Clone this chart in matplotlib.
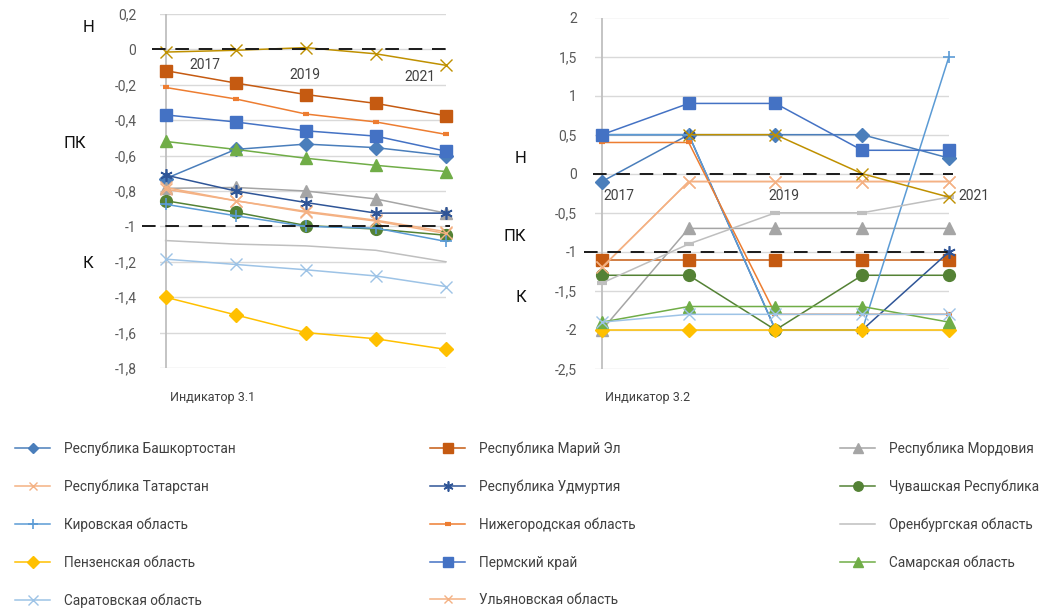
import matplotlib.pyplot as plt
from matplotlib.ticker import FuncFormatter

plt.rcParams['font.family'] = ['Roboto', 'DejaVu Sans']

# data
years = ['2017', '2018', '2019', '2020', '2021']
regions = ['Республика Башкортостан', 'Республика Марий Эл', 'Республика Мордовия',
           'Республика Татарстан', 'Республика Удмуртия', 'Чувашская Республика',
           'Кировская область', 'Нижегородская область', 'Оренбургская область',
           'Пензенская область', 'Пермский край', 'Самарская область',
           'Саратовская область', 'Ульяновская область']

# indicator 3.1, one row per region (same order as regions)
ind31 = [
    [-0.73, -0.565, -0.535, -0.555, -0.6],
    [-0.12, -0.19, -0.255, -0.305, -0.375],
    [-0.785, -0.78, -0.8, -0.845, -0.925],
    [-0.78, -0.855, -0.915, -0.965, -1.03],
    [-0.71, -0.8, -0.865, -0.925, -0.925],
    [-0.855, -0.92, -0.995, -1.015, -1.05],
    [-0.875, -0.94, -1.0, -1.01, -1.085],
    [-0.215, -0.28, -0.365, -0.41, -0.48],
    [-1.08, -1.1, -1.11, -1.135, -1.2],
    [-1.4, -1.5, -1.6, -1.635, -1.695],
    [-0.37, -0.41, -0.46, -0.49, -0.575],
    [-0.52, -0.565, -0.615, -0.655, -0.69],
    [-1.185, -1.215, -1.245, -1.28, -1.34],
    [-0.79, -0.855, -0.92, -0.97, -1.04],
]
# indicator 3.2
ind32 = [
    [-0.1, 0.5, 0.5, 0.5, 0.2],
    [-1.1, -1.1, -1.1, -1.1, -1.1],
    [-2, -0.7, -0.7, -0.7, -0.7],
    [-1.2, -0.1, -0.1, -0.1, -0.1],
    [0.5, 0.5, -2, -2, -1],
    [-1.3, -1.3, -2, -1.3, -1.3],
    [0.5, 0.5, -2, -2, 1.5],
    [0.4, 0.4, -1.8, -1.8, -1.8],
    [-1.4, -0.9, -0.5, -0.5, -0.3],
    [-2, -2, -2, -2, -2],
    [0.5, 0.9, 0.9, 0.3, 0.3],
    [-1.9, -1.7, -1.7, -1.7, -1.9],
    [-1.9, -1.8, -1.8, -1.8, -1.8],
    [-1.2, -0.1, -0.1, -0.1, -0.1],
]
# gold series that has no legend entry (no 2017 value on the right chart)
extra31 = [-0.015, -0.005, 0.01, -0.025, -0.09]
extra32 = [float('nan'), 0.5, 0.5, 0, -0.3]

thresholds = [0, -1]
yticks31 = [0.2, 0, -0.2, -0.4, -0.6, -0.8, -1, -1.2, -1.4, -1.6, -1.8]
yticks32 = [2, 1.5, 1, 0.5, 0, -0.5, -1, -1.5, -2, -2.5]

# styles: color, marker, markersize, marker edge width
star = (6, 2, 0)
styles = [
    ('#4A7EBB', 'D', 7, 1),
    ('#C55A11', 's', 8.5, 1),
    ('#A5A5A5', '^', 8.5, 1),
    ('#F4B183', 'x', 8, 1),
    ('#2F5597', star, 9, 1.2),
    ('#548235', 'o', 8.5, 1),
    ('#5B9BD5', '+', 9, 1.2),
    ('#ED7D31', '_', 5, 3),
    ('#BFBFBF', '_', 7, 3),
    ('#FFC000', 'D', 7.5, 1),
    ('#4472C4', 's', 8.5, 1),
    ('#70AD47', '^', 8.5, 1),
    ('#9DC3E6', 'x', 9, 1),
    ('#F4B183', 'x', 8, 1),
]
extra_style = ('#BF9000', 'x', 9, 1)

W, H = 1043, 613
fig = plt.figure(figsize=(W / 100, H / 100), dpi=100)


def box(x0, y0, x1, y1):
    return [x0 / W, 1 - y1 / H, (x1 - x0) / W, (y1 - y0) / H]


def ftext(x, y, s, **kw):
    fig.text(x / W, 1 - y / H, s, **kw)


comma = FuncFormatter(lambda v, p: ('%g' % v).replace('.', ','))


def draw(ax, rows, extra, yticks, ylim, xleft, pad, left_chart):
    xs = range(len(years))
    handles = []
    for name, vals, (c, m, ms, mew) in zip(regions, rows, styles):
        if left_chart and name == 'Оренбургская область':
            m = 'None'
        ln, = ax.plot(xs, vals, color=c, lw=1.1, marker=m, ms=ms, mew=mew,
                      mfc=c, mec=c, label=name, clip_on=False, zorder=3)
        handles.append(ln)
    c, m, ms, mew = extra_style
    ax.plot(xs, extra, color=c, lw=1.1, marker=m, ms=ms, mew=mew, mec=c,
            clip_on=False, zorder=3)
    for t, x0 in zip(thresholds, xleft):
        ax.hlines(t, x0, 4.05, colors='#1a1a1a', lw=1.4, linestyles=(0, (7, 5)),
                  clip_on=False, zorder=4)
    ax.axvline(0, color='#BFBFBF', lw=1.3, zorder=1)
    ax.set_xlim(-0.08, 4)
    ax.set_ylim(*ylim)
    ax.set_yticks(yticks)
    ax.yaxis.set_major_formatter(comma)
    ax.set_xticks([])
    ax.yaxis.grid(True, color='#D9D9D9', lw=1)
    ax.set_axisbelow(True)
    for s in ax.spines.values():
        s.set_visible(False)
    ax.tick_params(axis='y', length=0, pad=pad, labelsize=10, labelcolor='#595959')
    return handles


ax1 = fig.add_axes(box(160, 14, 446, 368))
handles = draw(ax1, ind31, extra31, yticks31, (-1.8, 0.2), [-0.2, -0.34], 17, True)

ax2 = fig.add_axes(box(595, 17.5, 949, 369))
draw(ax2, ind32, extra32, yticks32, (-2.5, 2), [-0.1, -0.21], 13, False)

# zone letters
for x, y, s in [(88, 28, 'Н'), (75, 143, 'ПК'), (88, 263, 'К'),
                (521, 158, 'Н'), (515, 236, 'ПК'), (521, 298, 'К')]:
    ftext(x, y, s, fontsize=12, ha='center', va='center', color='#111111')

# year labels
for x, y, s in [(205, 65, '2017'), (305, 75, '2019'), (420, 77, '2021'),
                (619, 196, '2017'), (784, 196, '2019'), (974, 196, '2021')]:
    ftext(x, y, s, fontsize=10, ha='center', va='center', color='#404040')

ftext(170, 398, 'Индикатор 3.1', fontsize=9, va='center', color='#404040')
ftext(605, 398, 'Индикатор 3.2', fontsize=9, va='center', color='#404040')

# legend, three columns filled row by row
for col, x in enumerate([15, 430, 840]):
    fig.legend(handles[col::3], [h.get_label() for h in handles[col::3]],
               loc='upper left', bbox_to_anchor=(x / W, 1 - 441 / H),
               frameon=False, borderpad=0, borderaxespad=0,
               handlelength=2.6, handletextpad=1.0, labelspacing=1.74,
               fontsize=9.8, labelcolor='#404040', markerscale=0.8)

fig.savefig('out.png', dpi=100)
